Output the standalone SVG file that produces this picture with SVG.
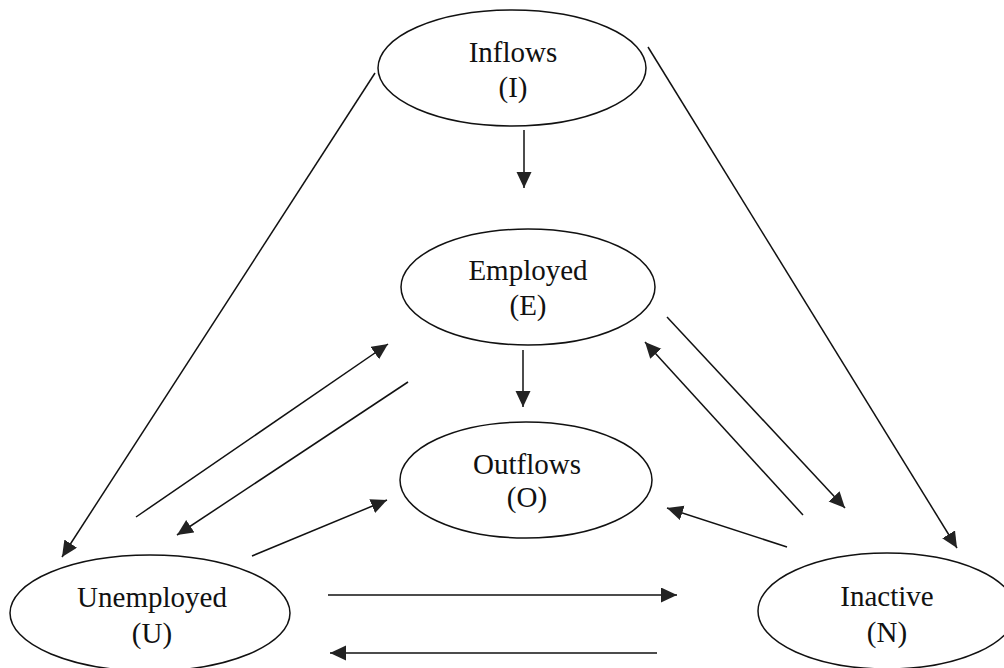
<svg xmlns="http://www.w3.org/2000/svg" width="1004" height="668" viewBox="0 0 1004 668">
<style>
.node ellipse{fill:none;stroke:#111;stroke-width:1.5}
.node text{font-family:"Liberation Serif","Times New Roman",serif;font-size:29px;fill:#111;text-anchor:middle}
.conn line{stroke:#111;stroke-width:1.5;marker-end:url(#ah)}
</style>
<defs>
<marker id="ah" markerUnits="userSpaceOnUse" markerWidth="18" markerHeight="16" refX="16" refY="7.5" orient="auto">
<path d="M0,0 L16,7.5 L0,15 z" fill="#222"/>
</marker>
</defs>
<rect width="1004" height="668" fill="#fff"/>
<g id="inflows" class="node">
<ellipse cx="512" cy="68" rx="134" ry="58"/>
<text x="513" y="62">Inflows</text>
<text x="513" y="97">(I)</text>
</g>
<g id="employed" class="node">
<ellipse cx="528" cy="287" rx="127" ry="58"/>
<text x="528" y="280">Employed</text>
<text x="528" y="315">(E)</text>
</g>
<g id="outflows" class="node">
<ellipse cx="526" cy="480" rx="126" ry="58"/>
<text x="527" y="474">Outflows</text>
<text x="527" y="507">(O)</text>
</g>
<g id="unemployed" class="node">
<ellipse cx="150" cy="613" rx="140" ry="58"/>
<text x="152" y="607">Unemployed</text>
<text x="152" y="643">(U)</text>
</g>
<g id="inactive" class="node">
<ellipse cx="887" cy="611" rx="129" ry="58"/>
<text x="887" y="606">Inactive</text>
<text x="887" y="642">(N)</text>
</g>
<g id="connectors" class="conn">
<line x1="524" y1="130" x2="524" y2="188"/>
<line x1="523" y1="350" x2="523" y2="407"/>
<line x1="375" y1="73" x2="62" y2="557"/>
<line x1="648" y1="47" x2="957" y2="548"/>
<line x1="136" y1="517" x2="388" y2="344"/>
<line x1="408" y1="382" x2="177" y2="535"/>
<line x1="252" y1="556" x2="387" y2="500"/>
<line x1="667" y1="317" x2="845" y2="508"/>
<line x1="803" y1="515" x2="645" y2="342"/>
<line x1="787" y1="547" x2="667" y2="508"/>
<line x1="328" y1="595" x2="677" y2="595"/>
<line x1="657" y1="653" x2="330" y2="653"/>
</g>
</svg>
